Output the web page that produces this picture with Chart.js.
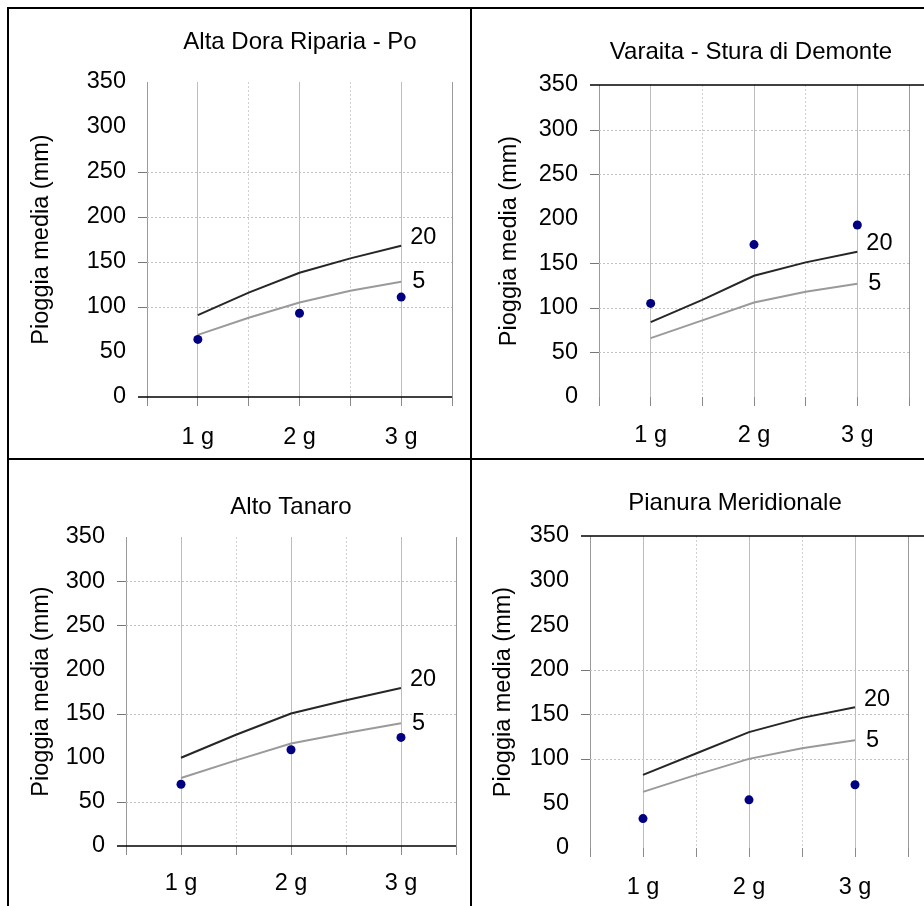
<!DOCTYPE html>
<html>
<head>
<meta charset="utf-8">
<script src="https://cdn.jsdelivr.net/npm/chart.js@4.4.1/dist/chart.umd.min.js"></script>
<style>
html,body{margin:0;padding:0;background:#fff;}
#page{position:relative;width:924px;height:906px;overflow:hidden;background:#fff;}
#page canvas{position:absolute;left:0;top:0;width:924px;height:906px;}
.rule{position:absolute;background:#000;}
</style>
</head>
<body>
<div id="page">
  <canvas id="c1" width="924" height="906"></canvas>
  <canvas id="c2" width="924" height="906"></canvas>
  <canvas id="c3" width="924" height="906"></canvas>
  <canvas id="c4" width="924" height="906"></canvas>
  <div class="rule" style="left:7px;top:7px;width:917px;height:2px"></div>
  <div class="rule" style="left:7px;top:7px;width:2px;height:899px"></div>
  <div class="rule" style="left:470px;top:7px;width:2px;height:899px"></div>
  <div class="rule" style="left:7px;top:458px;width:917px;height:2px"></div>
</div>
<script>
// ---------- data ----------
const durationLabels = ['1 g', '2 g', '3 g'];
const durationDays = [1, 2, 3];
const curveDays = [1, 1.5, 2, 2.5, 3];
const returnPeriods = ['20', '5'];
const yAxisTitle = 'Pioggia media (mm)';
const panelTitles = ['Alta Dora Riparia - Po', 'Varaita - Stura di Demonte', 'Alto Tanaro', 'Pianura Meridionale'];

const altaDoraT20 = [91, 116, 138, 154, 168];
const altaDoraT5  = [69, 88, 105, 118, 128];
const altaDoraObs = [64, 93, 111];

const varaitaT20 = [84, 109, 136, 151, 163];
const varaitaT5  = [66, 86, 106, 118, 127];
const varaitaObs = [105, 171, 193];

const altoTanaroT20 = [100, 126, 150, 165, 179];
const altoTanaroT5  = [77, 97, 116, 128, 139];
const altoTanaroObs = [70, 109, 123];

const pianuraT20 = [82, 106, 130, 146, 158];
const pianuraT5  = [63, 82, 100, 112, 121];
const pianuraObs = [33, 54, 71];

// ---------- layout / style ----------
const FONT = '"Liberation Sans", Arial, Helvetica, sans-serif';
const Y_MIN = 0, Y_MAX = 350, Y_STEP = 50;
const X_MIN = 0.5, X_MAX = 3.5, X_STEP = 0.5;

const panels = [
  { id: 'c1', title: panelTitles[0], t20: altaDoraT20, t5: altaDoraT5, obs: altaDoraObs,
    plot: { l: 147, t: 82, r: 452, b: 397 }, titleX: 300, titleY: 42, axisTitleX: 41,
    frame: 'bottom', xPad: 17, gridVals: [100, 150, 200, 250] },
  { id: 'c2', title: panelTitles[1], t20: varaitaT20, t5: varaitaT5, obs: varaitaObs,
    plot: { l: 599, t: 85, r: 919, b: 397 }, titleX: 751, titleY: 52, axisTitleX: 509,
    frame: 'top', xPad: 15, gridVals: [50, 100, 150, 250, 300] },
  { id: 'c3', title: panelTitles[2], t20: altoTanaroT20, t5: altoTanaroT5, obs: altoTanaroObs,
    plot: { l: 126, t: 537, r: 456, b: 846 }, titleX: 291, titleY: 507, axisTitleX: 41,
    frame: 'bottom', xPad: 14, gridVals: [50, 150, 250, 300] },
  { id: 'c4', title: panelTitles[3], t20: pianuraT20, t5: pianuraT5, obs: pianuraObs,
    plot: { l: 590, t: 536, r: 914, b: 848 }, titleX: 735, titleY: 503, axisTitleX: 503,
    frame: 'top', xPad: 16, gridVals: [100, 150, 200] }
];

// horizontal grid, frame line and y tick marks, drawn from the y scale
const yGridPlugin = {
  id: 'yGridSel',
  beforeDatasetsDraw(chart, args, opts) {
    const ctx = chart.ctx, ys = chart.scales.y, area = chart.chartArea;
    ctx.save();
    opts.values.forEach(v => {
      const y = Math.round(ys.getPixelForValue(v)) + 0.5;
      ctx.setLineDash([2, 2]);
      ctx.strokeStyle = '#c2c2c2';
      ctx.lineWidth = 1;
      ctx.beginPath(); ctx.moveTo(area.left, y); ctx.lineTo(area.right, y); ctx.stroke();
      ctx.setLineDash([]);
      ctx.strokeStyle = '#777';
      ctx.beginPath(); ctx.moveTo(area.left - opts.tick, y); ctx.lineTo(area.left, y); ctx.stroke();
    });
    const fy = Math.round(ys.getPixelForValue(opts.frameValue));
    ctx.setLineDash([]);
    ctx.strokeStyle = '#000';
    ctx.lineWidth = 1.5;
    ctx.beginPath();
    ctx.moveTo(area.left - opts.tick, fy);
    ctx.lineTo(opts.frameToEdge ? chart.width : area.right, fy);
    ctx.stroke();
    ctx.restore();
  }
};

const decorPlugin = {
  id: 'panelDecor',
  afterDatasetsDraw(chart, args, opts) {
    const ctx = chart.ctx;
    ctx.save();
    ctx.fillStyle = '#000';
    ctx.textBaseline = 'middle';
    ctx.textAlign = 'center';
    ctx.font = opts.titleSize + 'px ' + FONT;
    ctx.fillText(opts.title, opts.titleX, opts.titleY);
    ctx.textAlign = 'left';
    ctx.font = opts.labelSize + 'px ' + FONT;
    chart.data.datasets.forEach(ds => {
      if (!ds.endLabel) return;
      const last = ds.data[ds.data.length - 1];
      const x = chart.scales.x.getPixelForValue(last.x) + ds.endLabelDx;
      const y = chart.scales.y.getPixelForValue(last.y) + ds.endLabelDy;
      ctx.fillText(ds.endLabel, x, y);
    });
    ctx.restore();
  }
};

function near(a, b) { return Math.abs(a - b) < 1e-6; }
function range(a, b, s) { const out = []; for (let v = a; v <= b + 1e-9; v += s) out.push(Math.round(v * 10) / 10); return out; }

function build(p) {
  const XH = 60;
  const padLeft = p.axisTitleX - 14;
  const frameVal = p.frame === 'bottom' ? Y_MIN : Y_MAX;
  const yVals = range(Y_MIN, Y_MAX, Y_STEP);
  const xVals = range(X_MIN, X_MAX, X_STEP);
  const xGridColors = xVals.map(v => (near(v, X_MIN) || near(v, X_MAX)) ? '#9a9a9a' : (near(v, Math.round(v)) ? '#bdbdbd' : '#d0d0d0'));
  const isDotted = v => !(near(v, X_MIN) || near(v, X_MAX) || near(v, Math.round(v)));

  new Chart(document.getElementById(p.id), {
    type: 'scatter',
    data: {
      datasets: [
        { label: 'osservati', data: durationDays.map((d, i) => ({ x: d, y: p.obs[i] })),
          showLine: false, pointRadius: 4.5, pointBackgroundColor: '#000080',
          pointBorderWidth: 0, pointBorderColor: '#000080' },
        { label: returnPeriods[0], data: curveDays.map((d, i) => ({ x: d, y: p.t20[i] })),
          showLine: true, borderColor: '#262626', borderWidth: 2, pointRadius: 0,
          endLabel: returnPeriods[0], endLabelDx: 9, endLabelDy: -8 },
        { label: returnPeriods[1], data: curveDays.map((d, i) => ({ x: d, y: p.t5[i] })),
          showLine: true, borderColor: '#9a9a9a', borderWidth: 2, pointRadius: 0,
          endLabel: returnPeriods[1], endLabelDx: 11, endLabelDy: 0 }
      ]
    },
    options: {
      responsive: false,
      animation: false,
      devicePixelRatio: 1,
      events: [],
      layout: { padding: { left: padLeft, top: p.plot.t, right: 924 - p.plot.r, bottom: 906 - p.plot.b - XH } },
      plugins: {
        legend: { display: false },
        tooltip: { enabled: false },
        yGridSel: { values: p.gridVals, frameValue: frameVal, tick: 9, frameToEdge: p.frame === 'top' },
        panelDecor: { title: p.title, titleX: p.titleX, titleY: p.titleY, titleSize: 24, labelSize: 23.5 }
      },
      scales: {
        x: {
          type: 'linear', min: X_MIN, max: X_MAX,
          afterFit(s) { s.height = XH; },
          afterBuildTicks(s) { s.ticks = xVals.map(v => ({ value: v })); },
          ticks: {
            autoSkip: false, maxRotation: 0, minRotation: 0,
            padding: p.xPad, color: '#000', font: { family: FONT, size: 23.5 },
            callback: v => {
              const k = durationDays.findIndex(d => near(d, v));
              return k >= 0 ? durationLabels[k] : '';
            }
          },
          grid: { color: xGridColors, tickColor: '#8a8a8a', tickLength: 9, lineWidth: 1, tickWidth: 1 },
          border: { display: false, dash: c => (c && c.tick && isDotted(c.tick.value)) ? [2, 2] : [] }
        },
        y: {
          type: 'linear', min: Y_MIN, max: Y_MAX,
          afterFit(s) { s.width = p.plot.l - padLeft; },
          afterBuildTicks(s) { s.ticks = yVals.map(v => ({ value: v })); },
          ticks: { padding: 12, color: '#000', font: { family: FONT, size: 23.5 } },
          grid: { display: false, drawTicks: true, tickLength: 9 },
          border: { display: false },
          title: { display: true, text: yAxisTitle, color: '#000', padding: 0,
                   font: { family: FONT, size: 23.5 } }
        }
      }
    },
    plugins: [yGridPlugin, decorPlugin]
  });
}

panels.forEach(build);
</script>
</body>
</html>
